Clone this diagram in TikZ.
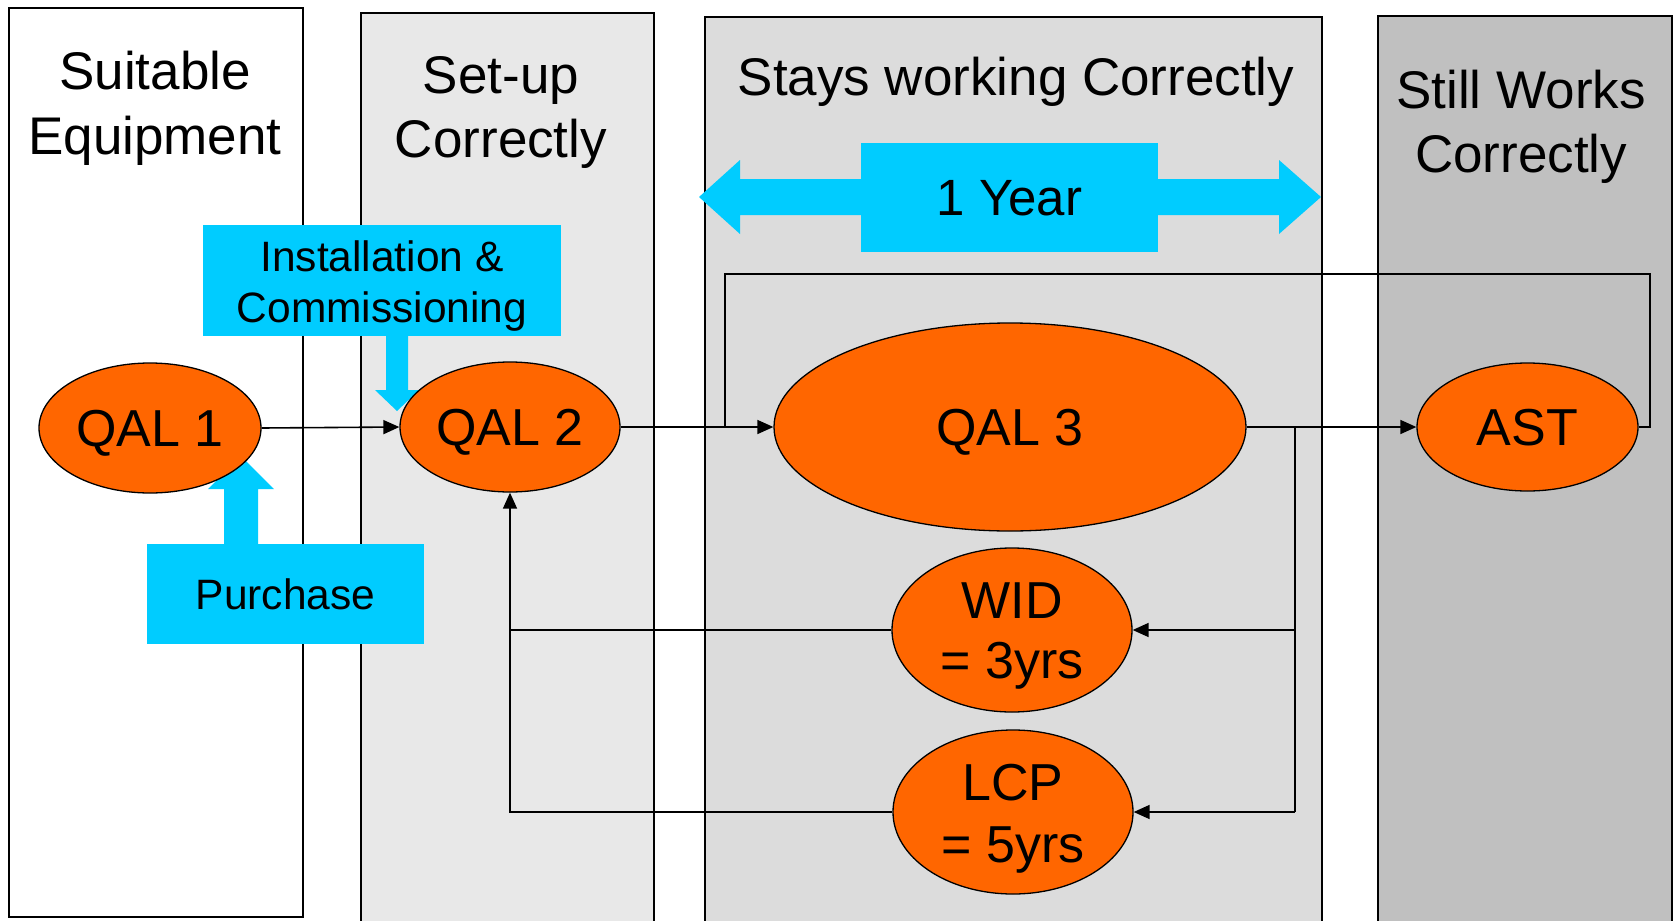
\documentclass[tikz,border=0pt]{standalone}
\usepackage{fontspec}
\setmainfont{Liberation Sans}
\usetikzlibrary{shapes.geometric,arrows.meta}
\definecolor{qorange}{HTML}{FF6600}
\definecolor{qcyan}{HTML}{00CCFF}
\definecolor{gtwo}{HTML}{E8E8E8}
\definecolor{gthree}{HTML}{DCDCDC}
\definecolor{gfour}{HTML}{C0C0C0}
\tikzset{
  colbox/.style={draw=black, line width=1.5pt, inner sep=0pt},
  ttl/.style={anchor=base, inner sep=0pt, font=\fontsize{53}{60}\selectfont},
  proc/.style={ellipse, draw=black, fill=qorange, line width=1.3pt, inner sep=0pt, font=\fontsize{52}{62}\selectfont, text height=37.4pt, text depth=0pt},
  proctxt/.style={anchor=base, inner sep=0pt, font=\fontsize{52}{62}\selectfont},
  cyanbox/.style={fill=qcyan, inner sep=0pt, text depth=0pt},
  boxtxt/.style={anchor=base, inner sep=0pt, font=\fontsize{42.5}{51}\selectfont},
  conn/.style={line width=1.6pt},
  arr/.style={conn, -{Triangle[length=16pt,width=14pt]}},
}
\begin{document}
\begin{tikzpicture}[x=1pt,y=-1pt]
\useasboundingbox (0,0) rectangle (1679,921);
% columns
\node[colbox, fill=white, minimum width=294pt, minimum height=909pt] (col1) at (156,462.5) {};
\node[colbox, fill=gtwo, minimum width=293pt, minimum height=913pt] (col2) at (507.5,469.5) {};
\node[colbox, fill=gthree, minimum width=617pt, minimum height=909pt] (col3) at (1013.5,471.5) {};
\node[colbox, fill=gfour, minimum width=294pt, minimum height=910pt] (col4) at (1525,471) {};
% titles
\node[ttl] (t1a) at (155,89) {Suitable};
\node[ttl] (t1b) at (155,154) {Equipment};
\node[ttl] (t2a) at (501,93) {Set-up};
\node[ttl] (t2b) at (501,157) {Correctly};
\node[ttl] (t3a) at (1016,95) {Stays working Correctly};
\node[ttl] (t4a) at (1521,108) {Still Works};
\node[ttl] (t4b) at (1521,172) {Correctly};
% process nodes (positions)
\path (150,428) coordinate (pQAL1) (510,427) coordinate (pQAL2) (1010,427) coordinate (pQAL3)
      (1527.5,427) coordinate (pAST) (1012,630) coordinate (pWID) (1013,812) coordinate (pLCP);
% 1 year double arrow
\fill[qcyan] (699,197) -- (740,160) -- (740,179) -- (1279,179) -- (1279,160) -- (1321,197)
   -- (1279,234) -- (1279,215) -- (740,215) -- (740,234) -- cycle;
\node[cyanbox, text height=36.7pt, minimum width=297pt, minimum height=109pt, font=\fontsize{51}{60}\selectfont] (year) at (1009.5,197) {1 Year};
% purchase
\fill[qcyan] (224,546) -- (224,489) -- (208,489) -- (241,456) -- (274,489) -- (258,489) -- (258,546) -- cycle;
\node[cyanbox, text height=30.6pt, minimum width=277pt, minimum height=100pt, font=\fontsize{42.5}{51}\selectfont] (purch) at (285.5,594) {Purchase};
% installation
\fill[qcyan] (386,334) -- (386,390) -- (375,390) -- (397,411) -- (419,390) -- (408,390) -- (408,334) -- cycle;
\node[cyanbox, minimum width=358pt, minimum height=111pt] (inst) at (382,280.5) {};
\node[boxtxt] (inst1) at (382,271) {Installation \&};
\node[boxtxt] (inst2) at (382,322) {Commissioning};
% ellipses
\node[proc, minimum width=222pt, minimum height=130pt] (QAL1) at (pQAL1) {QAL 1};
\node[proc, minimum width=220pt, minimum height=130pt] (QAL2) at (pQAL2) {QAL 2};
\node[proc, minimum width=472pt, minimum height=208pt] (QAL3) at (pQAL3) {QAL 3};
\node[proc, minimum width=221pt, minimum height=128pt] (AST) at (pAST) {AST};
\node[proc, minimum width=240pt, minimum height=164pt] (WID) at (pWID) {};
\node[proctxt] (WID1) at (1012,618) {WID};
\node[proctxt] (WID2) at (1012,678) {= 3yrs};
\node[proc, minimum width=240pt, minimum height=164pt] (LCP) at (pLCP) {};
\node[proctxt] (LCP1) at (1013,800) {LCP};
\node[proctxt] (LCP2) at (1013,862) {= 5yrs};
% connectors
\coordinate (fb1) at (1295,427);
\coordinate (fb2) at (1295,630);
\coordinate (fb3) at (1295,812);
\coordinate (lr) at (1650,274);
\coordinate (lt) at (725,274);
\draw[arr] (QAL1.east) -- (QAL2.west);
\draw[arr] (QAL2) -- (QAL3);
\draw[arr] (QAL3) -- (AST);
\draw[conn] (fb1) -- (fb3);
\draw[arr] (fb2) -- (WID);
\draw[arr] (fb3) -- (LCP);
\draw[arr] (LCP.west) -| (QAL2.south);
\draw[conn] (WID.west) -- (WID.west -| QAL2.south);
\draw[conn] (AST.east) -| (lr) -- (lt) -- (lt |- QAL3.west);
\end{tikzpicture}
\end{document}
